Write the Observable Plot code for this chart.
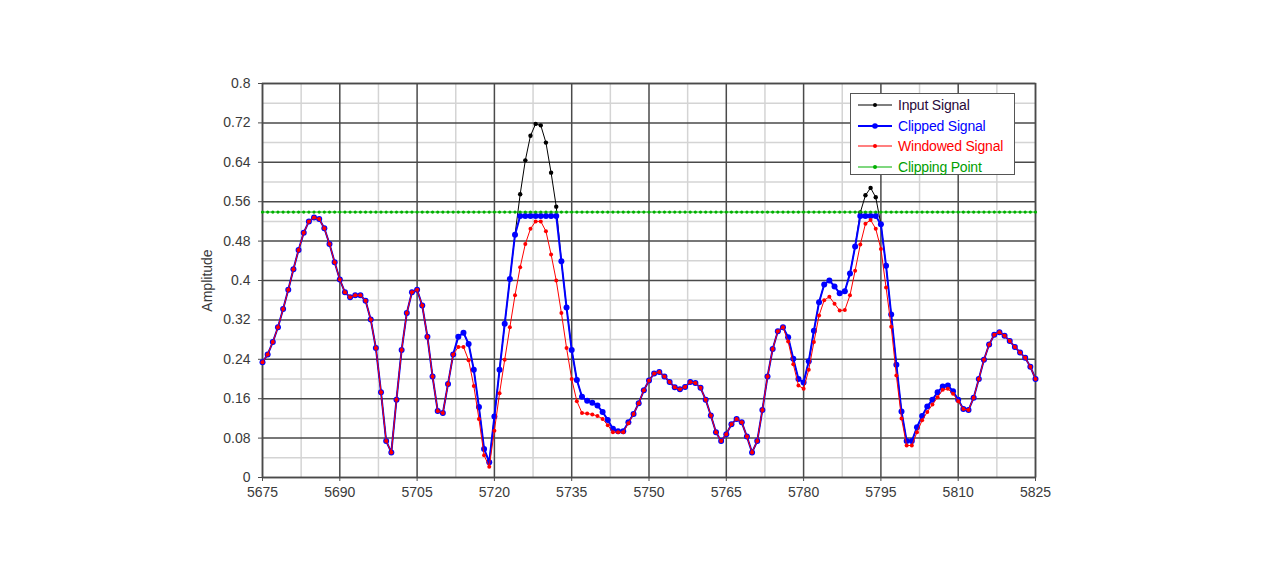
<!DOCTYPE html>
<html>
<head>
<meta charset="utf-8">
<script src="https://cdn.jsdelivr.net/npm/d3@7"></script>
<script src="https://cdn.jsdelivr.net/npm/@observablehq/plot@0.6"></script>
<style>
  html, body { margin: 0; padding: 0; background: #fff; }
  #wrap { position: relative; width: 1280px; height: 574px; font-family: "Liberation Sans", Arial, sans-serif; }
  #legend { position: absolute; left: 850px; top: 93px; width: 165px; height: 82px; border: 1.5px solid #555; background: #fff; box-sizing: border-box; }
  .row { position: absolute; left: 0; height: 20px; display: flex; align-items: center; }
  .row span { font-size: 14px; margin-left: 6px; letter-spacing: -0.2px; white-space: nowrap; }
</style>
</head>
<body>
<div id="wrap"></div>
<script>
// sample index
const samples = d3.range(5675, 5826);

// Input signal (black)
const inputSignal = [
  0.234,0.250,0.275,0.305,0.342,0.381,0.423,0.462,0.497,0.520,
  0.528,0.525,0.506,0.474,0.437,0.402,0.376,0.366,0.370,0.370,
  0.359,0.321,0.263,0.173,0.074,0.051,0.158,0.259,0.334,0.376,
  0.381,0.349,0.286,0.205,0.135,0.131,0.190,0.250,0.286,0.294,
  0.271,0.219,0.143,0.058,0.031,0.124,0.219,0.312,0.403,0.493,
  0.575,0.644,0.694,0.718,0.715,0.680,0.619,0.550,0.439,0.345,
  0.259,0.198,0.164,0.156,0.152,0.146,0.133,0.117,0.099,0.094,
  0.094,0.112,0.129,0.151,0.177,0.197,0.211,0.214,0.205,0.194,
  0.183,0.179,0.184,0.194,0.192,0.182,0.158,0.126,0.092,0.074,
  0.088,0.108,0.119,0.112,0.083,0.051,0.074,0.137,0.205,0.261,
  0.297,0.305,0.285,0.241,0.200,0.193,0.236,0.298,0.356,0.392,
  0.400,0.388,0.374,0.378,0.414,0.469,0.538,0.573,0.588,0.569,
  0.514,0.430,0.331,0.229,0.134,0.074,0.074,0.102,0.125,0.144,
  0.158,0.173,0.185,0.187,0.175,0.158,0.139,0.137,0.162,0.200,
  0.239,0.270,0.290,0.295,0.288,0.277,0.265,0.254,0.243,0.225,0.200
];

// Clipped signal (blue)
const clippedSignal = [
  0.234,0.250,0.275,0.305,0.342,0.381,0.423,0.462,0.497,0.520,
  0.528,0.525,0.506,0.474,0.437,0.402,0.376,0.366,0.370,0.370,
  0.359,0.321,0.263,0.173,0.074,0.051,0.158,0.259,0.334,0.376,
  0.381,0.349,0.286,0.205,0.135,0.131,0.190,0.250,0.286,0.294,
  0.271,0.219,0.143,0.058,0.031,0.124,0.219,0.312,0.403,0.493,
  0.531,0.531,0.531,0.531,0.531,0.531,0.531,0.531,0.439,0.345,
  0.259,0.198,0.164,0.156,0.152,0.146,0.133,0.117,0.099,0.094,
  0.094,0.112,0.129,0.151,0.177,0.197,0.211,0.214,0.205,0.194,
  0.183,0.179,0.184,0.194,0.192,0.182,0.158,0.126,0.092,0.074,
  0.088,0.108,0.119,0.112,0.083,0.051,0.074,0.137,0.205,0.261,
  0.297,0.305,0.285,0.241,0.200,0.193,0.236,0.298,0.356,0.392,
  0.400,0.388,0.374,0.378,0.414,0.469,0.531,0.531,0.531,0.531,
  0.514,0.430,0.331,0.229,0.134,0.074,0.074,0.102,0.125,0.144,
  0.158,0.173,0.185,0.187,0.175,0.158,0.139,0.137,0.162,0.200,
  0.239,0.270,0.290,0.295,0.288,0.277,0.265,0.254,0.243,0.225,0.200
];

// Windowed signal (red)
const windowedSignal = [
  0.234,0.250,0.275,0.305,0.342,0.381,0.423,0.462,0.497,0.520,
  0.528,0.525,0.506,0.474,0.437,0.402,0.376,0.366,0.370,0.370,
  0.359,0.321,0.263,0.173,0.074,0.051,0.158,0.259,0.334,0.376,
  0.381,0.349,0.286,0.205,0.135,0.131,0.190,0.250,0.265,0.265,
  0.238,0.186,0.119,0.045,0.022,0.095,0.171,0.239,0.305,0.370,
  0.427,0.474,0.505,0.520,0.520,0.500,0.453,0.400,0.334,0.263,
  0.200,0.155,0.131,0.130,0.128,0.125,0.119,0.106,0.092,0.092,
  0.092,0.110,0.129,0.151,0.177,0.197,0.211,0.214,0.205,0.194,
  0.183,0.179,0.184,0.194,0.192,0.182,0.158,0.126,0.092,0.074,
  0.088,0.108,0.119,0.112,0.083,0.051,0.074,0.137,0.205,0.261,
  0.297,0.305,0.276,0.230,0.187,0.180,0.219,0.275,0.329,0.360,
  0.367,0.353,0.339,0.340,0.370,0.420,0.473,0.515,0.523,0.505,
  0.464,0.386,0.306,0.207,0.120,0.065,0.065,0.092,0.116,0.133,
  0.148,0.163,0.178,0.180,0.170,0.155,0.139,0.137,0.162,0.200,
  0.239,0.270,0.290,0.295,0.288,0.277,0.265,0.254,0.243,0.225,0.200
];

// Clipping point (green)
const clippingLevel = 0.539;

// Ticks / grid
const xTicks = [5675, 5690, 5705, 5720, 5735, 5750, 5765, 5780, 5795, 5810, 5825];
const xMinor = [5682.5, 5697.5, 5712.5, 5727.5, 5742.5, 5757.5, 5772.5, 5787.5, 5802.5, 5817.5];
const yTicks = [0, 0.08, 0.16, 0.24, 0.32, 0.4, 0.48, 0.56, 0.64, 0.72, 0.8];
const yMinor = [0.04, 0.12, 0.2, 0.28, 0.36, 0.44, 0.52, 0.6, 0.68, 0.76];

const series = [
  {name: "Input Signal", color: "#000000", values: inputSignal},
  {name: "Clipped Signal", color: "#0000ff", values: clippedSignal},
  {name: "Windowed Signal", color: "#ff0000", values: windowedSignal},
  {name: "Clipping Point", color: "#00b000", values: samples.map(() => clippingLevel)}
];
const rows = s => samples.map((x, i) => ({x, y: s.values[i]}));
const inRows = rows(series[0]), clRows = rows(series[1]), wiRows = rows(series[2]), cpRows = rows(series[3]);

const chart = Plot.plot({
  width: 1280,
  height: 574,
  marginLeft: 262,
  marginRight: 245,
  marginTop: 83,
  marginBottom: 97,
  style: {fontFamily: "'Liberation Sans', Arial, sans-serif", fontSize: "14px", color: "#3a3a3a", background: "#fff"},
  x: {domain: [5675, 5825]},
  y: {domain: [0, 0.8]},
  marks: [
    Plot.ruleX(xMinor, {stroke: "#d4d4d4", strokeWidth: 1.5}),
    Plot.ruleY(yMinor, {stroke: "#d4d4d4", strokeWidth: 1.5}),
    Plot.ruleX(xTicks, {stroke: "#4a4a4a", strokeWidth: 1.5}),
    Plot.ruleY(yTicks, {stroke: "#4a4a4a", strokeWidth: 1.5}),
    Plot.axisX({ticks: xTicks, tickSize: 4, tickPadding: 6, tickFormat: d => String(d), label: null, stroke: "#4a4a4a"}),
    Plot.axisY({ticks: yTicks, tickSize: 4, tickPadding: 8, tickFormat: d => String(d), label: "Amplitude", labelAnchor: "center", labelOffset: 60, labelArrow: "none", stroke: "#4a4a4a"}),
    Plot.frame({stroke: "#4a4a4a", strokeWidth: 1.5}),
    // input
    Plot.line(inRows, {x: "x", y: "y", stroke: series[0].color, strokeWidth: 1}),
    Plot.dot(inRows, {x: "x", y: "y", r: 2.2, fill: series[0].color}),
    // clipped
    Plot.line(clRows, {x: "x", y: "y", stroke: series[1].color, strokeWidth: 2}),
    Plot.dot(clRows, {x: "x", y: "y", r: 3, fill: series[1].color}),
    // windowed
    Plot.line(wiRows, {x: "x", y: "y", stroke: series[2].color, strokeWidth: 1}),
    Plot.dot(wiRows, {x: "x", y: "y", r: 2, fill: series[2].color}),
    // clipping point
    Plot.line(cpRows, {x: "x", y: "y", stroke: series[3].color, strokeWidth: 1}),
    Plot.dot(cpRows, {x: "x", y: "y", r: 1.6, fill: series[3].color})
  ]
});

const wrap = document.getElementById("wrap");
wrap.appendChild(chart);

// legend
const legend = document.createElement("div");
legend.id = "legend";
const textColors = ["#2a0a3a", "#0000ff", "#ff0000", "#00a000"];
series.forEach((s, i) => {
  const row = document.createElement("div");
  row.className = "row";
  row.style.top = (1 + i * 20.5) + "px";
  row.style.left = "7px";
  const ns = "http://www.w3.org/2000/svg";
  const svg = document.createElementNS(ns, "svg");
  svg.setAttribute("width", 34); svg.setAttribute("height", 10);
  const ln = document.createElementNS(ns, "line");
  ln.setAttribute("x1", 0); ln.setAttribute("x2", 34); ln.setAttribute("y1", 5); ln.setAttribute("y2", 5);
  ln.setAttribute("stroke", s.color); ln.setAttribute("stroke-width", i === 1 ? 2 : 1.2);
  const c = document.createElementNS(ns, "circle");
  c.setAttribute("cx", 17); c.setAttribute("cy", 5); c.setAttribute("r", i === 1 ? 2.8 : 2);
  c.setAttribute("fill", s.color);
  svg.appendChild(ln); svg.appendChild(c);
  const t = document.createElement("span");
  t.textContent = s.name;
  t.style.color = textColors[i];
  row.appendChild(svg); row.appendChild(t);
  legend.appendChild(row);
});
wrap.appendChild(legend);
</script>
</body>
</html>
